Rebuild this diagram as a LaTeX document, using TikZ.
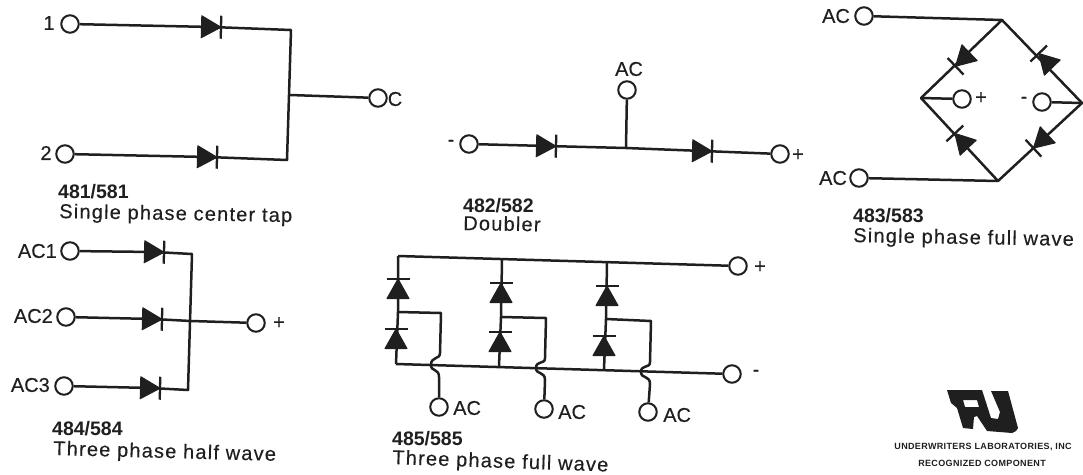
\documentclass[tikz,border=0pt]{standalone}
\usepackage{fontspec}
\setmainfont{Liberation Sans}
\newfontfamily\lblfont[FakeBold=0.25]{Liberation Sans}
\newfontfamily\spacedfont[LetterSpace=6,FakeBold=0.25]{Liberation Sans}
\newfontfamily\widefont[LetterSpace=4]{Liberation Sans Bold}
\definecolor{ink}{gray}{0.12}
\tikzset{
  wire/.style={line width=2.5pt,draw=ink,line join=round},
  term/.style={circle,draw=ink,line width=2pt,fill=white,minimum size=17.5pt,inner sep=0pt},
  lbl/.style={inner sep=0pt,text=ink,font=\fontsize{20}{22}\selectfont\lblfont},
  titletext/.style={inner sep=0pt,anchor=base west,text=ink,font=\fontsize{19.5}{22}\selectfont\bfseries},
  desctext/.style={inner sep=0pt,anchor=base west,text=ink,font=\fontsize{20}{22}\selectfont\spacedfont,rotate=-1},
  ultext/.style={inner sep=0pt,text=ink,font=\fontsize{9}{10}\selectfont\widefont},
  pics/diodeicon/.style={code={
    \fill[ink,draw=ink,line width=1pt,line join=round] (-10.5,-11) -- (9,0) -- (-10.5,11) -- cycle;
    \draw[ink,line width=2.3pt] (9,-11.5) -- (9,11.5);
  }}
}
\newcommand{\diodeat}[4]{\coordinate (#1) at (#2,#3); \pic[rotate=#4] at (#1) {diodeicon};}
\begin{document}
\begin{tikzpicture}[x=1pt,y=-1pt]
\useasboundingbox (0,0) rectangle (1083,474);
% ---------- 481/581
\coordinate (a1) at (212,27); \coordinate (a2) at (208,157);
\coordinate (ac1) at (291,30); \coordinate (ac2) at (287,160); \coordinate (aj) at (290,95);
\node[term] (at1) at (70,24) {}; \node[term] (at2) at (65,154) {}; \node[term] (atc) at (378,98) {};
\draw[wire] (at1) -- (a1) -- (ac1) -- (ac2) -- (a2) -- (at2);
\draw[wire] (aj) -- (atc);
\pic[rotate=-1.5] at (a1) {diodeicon}; \pic[rotate=-1.5] at (a2) {diodeicon};
\node[lbl] (al1) at (49,23) {1}; \node[lbl] (al2) at (46,153) {2}; \node[lbl] (alc) at (395,99) {C};
\node[titletext] (att) at (58,198) {481/581};
\node[desctext] (ads) at (59,218) {Single phase center tap};
% ---------- 482/582
\coordinate (b1) at (547,146); \coordinate (b2) at (703,151); \coordinate (bj) at (626,148);
\node[term] (bt1) at (469,144) {}; \node[term] (bt2) at (780,154) {}; \node[term] (bt3) at (627,90) {};
\node[lbl] (bl3) at (629,69) {AC};
\draw[wire] (bt1) -- (b1) -- (bj) -- (b2) -- (bt2);
\draw[wire] (bt3) -- (bj);
\pic[rotate=-1.5] at (b1) {diodeicon}; \pic[rotate=-1.5] at (b2) {diodeicon};
\node[lbl] (bl1) at (451,143) {-}; \node[lbl] (bl2) at (798,155) {+};
\node[titletext] (btt) at (463,212) {482/582};
\node[desctext,rotate=0] (bds) at (463,230) {Doubler};
% ---------- 483/583
\coordinate (ctop) at (1002,20); \coordinate (cleft) at (921,98);
\coordinate (cright) at (1082,103); \coordinate (cbot) at (998,181);
\node[term] (ct1) at (864,16) {}; \node[term] (ct2) at (859,178) {};
\node[term] (ctp) at (962,99) {}; \node[term] (ctm) at (1042,102) {};
\draw[wire] (ct1) -- (ctop) -- (cright) -- (cbot) -- (cleft) -- (ctop);
\draw[wire] (cbot) -- (ct2);
\draw[wire] (cleft) -- (ctp); \draw[wire] (ctm) -- (cright);
\diodeat{cd1}{962}{60}{224}
\diodeat{cd2}{1045}{60}{134}
\diodeat{cd3}{961}{140}{133}
\diodeat{cd4}{1040}{142}{223}
\node[lbl] (cl1) at (836,16) {AC}; \node[lbl] (cl2) at (833,178) {AC};
\node[lbl] (clp) at (981,98) {+}; \node[lbl] (clm) at (1024,100) {-};
\node[titletext] (ctt) at (853,222) {483/583};
\node[desctext] (cds) at (853,242) {Single phase full wave};
% ---------- 484/584
\coordinate (d1) at (155,252); \coordinate (d2) at (153,319); \coordinate (d3) at (151,388);
\coordinate (dc1) at (192,254); \coordinate (dj) at (191,321); \coordinate (dc3) at (188,390);
\node[term] (dt1) at (70,251) {}; \node[term] (dt2) at (66,317) {}; \node[term] (dt3) at (64,386) {};
\node[term] (dto) at (256,323) {};
\draw[wire] (dt1) -- (d1) -- (dc1) -- (dc3) -- (d3) -- (dt3);
\draw[wire] (dt2) -- (d2) -- (dj) -- (dto);
\pic[rotate=-1.5] at (d1) {diodeicon}; \pic[rotate=-1.5] at (d2) {diodeicon}; \pic[rotate=-1.5] at (d3) {diodeicon};
\node[lbl,anchor=east] (dl1) at (57,251) {AC1}; \node[lbl,anchor=east] (dl2) at (53,316) {AC2};
\node[lbl,anchor=east] (dl3) at (50,385) {AC3}; \node[lbl] (dlo) at (279,323) {+};
\node[titletext] (dtt) at (52,435) {484/584};
\node[desctext,rotate=-0.5] (dds) at (53,455) {Three phase half wave};
% ---------- 485/585
\coordinate (etl) at (398,256); \coordinate (ebl) at (396,364);
\coordinate (et2) at (502,260); \coordinate (eb2) at (499,366);
\coordinate (et3) at (607,263); \coordinate (eb3) at (604,369);
\coordinate (em1) at (398,312); \coordinate (em2) at (501,317); \coordinate (em3) at (606,319);
\coordinate (ek1) at (441,313); \coordinate (ek2) at (546,318); \coordinate (ek3) at (651,321);
\coordinate (eh1) at (440,353); \coordinate (eh2) at (545,358); \coordinate (eh3) at (650,362);
\coordinate (ex1) at (431,365); \coordinate (ex2) at (536,368); \coordinate (ex3) at (641,372);
\coordinate (eu1) at (439,377); \coordinate (eu2) at (545,380); \coordinate (eu3) at (650,384);
\node[term] (etp) at (738,266) {}; \node[term] (etm) at (732,374) {};
\node[term] (ea1) at (439,407) {}; \node[term] (ea2) at (544,409) {}; \node[term] (ea3) at (648,412) {};
\draw[wire] (etl) -- (etp); \draw[wire] (ebl) -- (etm);
\draw[wire] (etl) -- (em1) -- (ebl);
\draw[wire] (et2) -- (em2) -- (eb2);
\draw[wire] (et3) -- (em3) -- (eb3);
\draw[wire] (em1) -- (ek1) -- (eh1) .. controls (440,360) and (431,356) .. (ex1) .. controls (431,372) and (439,368) .. (eu1) -- (ea1);
\draw[wire] (em2) -- (ek2) -- (eh2) .. controls (545,365) and (536,360) .. (ex2) .. controls (536,375) and (545,371) .. (eu2) -- (ea2);
\draw[wire] (em3) -- (ek3) -- (eh3) .. controls (650,369) and (641,364) .. (ex3) .. controls (641,379) and (650,375) .. (eu3) -- (ea3);
\diodeat{e11}{398}{288}{90}
\diodeat{e12}{396}{338}{90}
\diodeat{e21}{501}{292}{90}
\diodeat{e22}{500}{341}{90}
\diodeat{e31}{607}{295}{90}
\diodeat{e32}{604}{345}{90}
\node[lbl] (elp) at (760,267) {+}; \node[lbl] (elm) at (756,373) {-};
\node[lbl,anchor=west] (el1) at (453,408) {AC}; \node[lbl,anchor=west] (el2) at (558,412) {AC};
\node[lbl,anchor=west] (el3) at (663,415) {AC};
\node[titletext] (ett) at (392,445) {485/585};
\node[desctext,rotate=-1] (eds) at (392,464) {Three phase full wave};
% ---------- logo
\fill[ink,even odd rule,line join=round]
 (947,390) -- (982,390) -- (991,418) -- (998,419) -- (1000,412) -- (991,391) -- (1008,391)
 -- (1018,428) -- (1016,431) -- (1012,433) -- (987,431) -- (977,416) -- (974,417) -- (973,429)
 -- (963,428) -- (957,408) -- (951,403) -- cycle
 (963,400) -- (977,400) -- (979,407) -- (965,407) -- cycle;
\node[ultext] (u1) at (983,447) {UNDERWRITERS LABORATORIES, INC};
\node[ultext] (u2) at (982,463) {RECOGNIZED COMPONENT};
\end{tikzpicture}
\end{document}
